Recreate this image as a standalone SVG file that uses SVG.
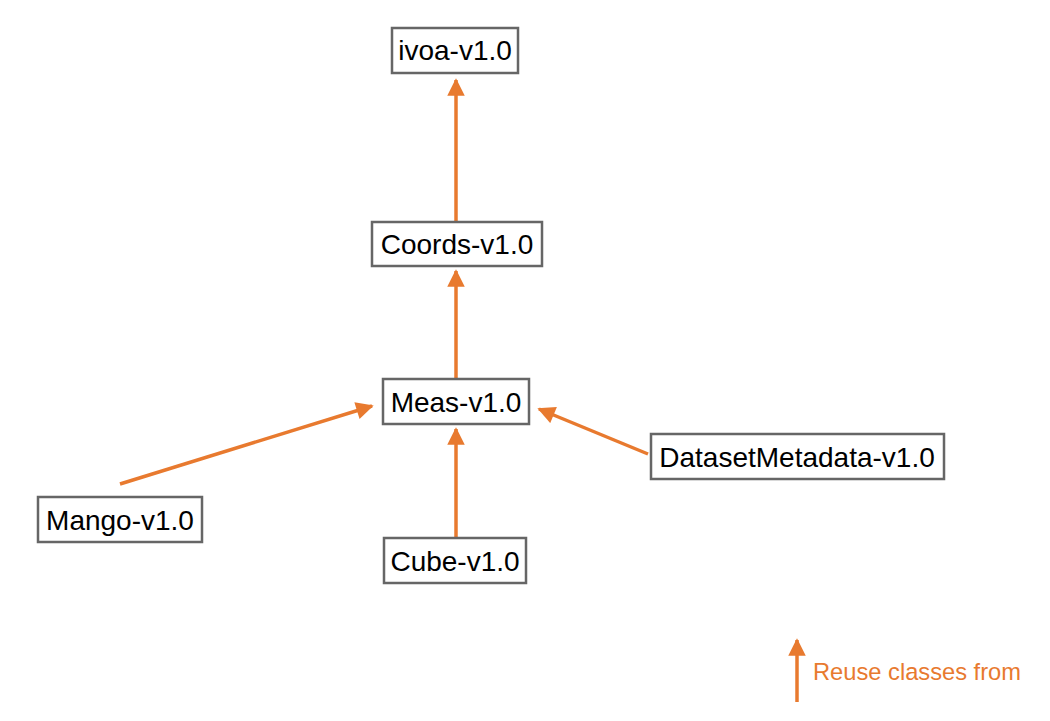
<svg xmlns="http://www.w3.org/2000/svg" width="1050" height="721" viewBox="0 0 1050 721">
<style>
.box{fill:#fff;stroke:#666;stroke-width:2.5}
.lbl{font-family:"Liberation Sans",Arial,Helvetica,sans-serif;font-size:28px;fill:#000;text-anchor:middle}
.edge{stroke:#E87A2F;stroke-width:3.5;fill:none}
.leg{font-family:"Liberation Sans",Arial,Helvetica,sans-serif;font-size:23.7px;fill:#E87A2F}
</style>
<defs>
<marker id="ah" viewBox="0 0 10 10" refX="9" refY="5" markerWidth="5.5" markerHeight="5" markerUnits="strokeWidth" orient="auto">
<path d="M0,0 L10,5 L0,10 Z" fill="#E87A2F"/>
</marker>
</defs>
<rect width="1050" height="721" fill="#fff"/>
<g id="connectors">
<line class="edge" x1="456" y1="222" x2="456" y2="80" marker-end="url(#ah)"/>
<line class="edge" x1="456" y1="378" x2="456" y2="271" marker-end="url(#ah)"/>
<line class="edge" x1="456" y1="537" x2="456" y2="429" marker-end="url(#ah)"/>
<line class="edge" x1="120" y1="484" x2="372" y2="406" marker-end="url(#ah)"/>
<line class="edge" x1="648" y1="454" x2="539" y2="409" marker-end="url(#ah)"/>
</g>
<g id="ivoa">
<rect class="box" x="392" y="28" width="126" height="45"/>
<text class="lbl" x="455" y="60">ivoa-v1.0</text>
</g>
<g id="coords">
<rect class="box" x="372" y="222" width="170" height="44"/>
<text class="lbl" x="457" y="254">Coords-v1.0</text>
</g>
<g id="meas">
<rect class="box" x="383" y="379" width="146" height="45"/>
<text class="lbl" x="456" y="412">Meas-v1.0</text>
</g>
<g id="mango">
<rect class="box" x="38" y="497" width="164" height="45"/>
<text class="lbl" x="120" y="530">Mango-v1.0</text>
</g>
<g id="cube">
<rect class="box" x="384" y="538" width="142" height="45"/>
<text class="lbl" x="455" y="571">Cube-v1.0</text>
</g>
<g id="datasetmetadata">
<rect class="box" x="651" y="434" width="293" height="45"/>
<text class="lbl" x="797" y="467">DatasetMetadata-v1.0</text>
</g>
<g id="legend">
<line class="edge" x1="797" y1="702" x2="797" y2="640" marker-end="url(#ah)"/>
<text class="leg" x="813" y="680">Reuse classes from</text>
</g>
</svg>
